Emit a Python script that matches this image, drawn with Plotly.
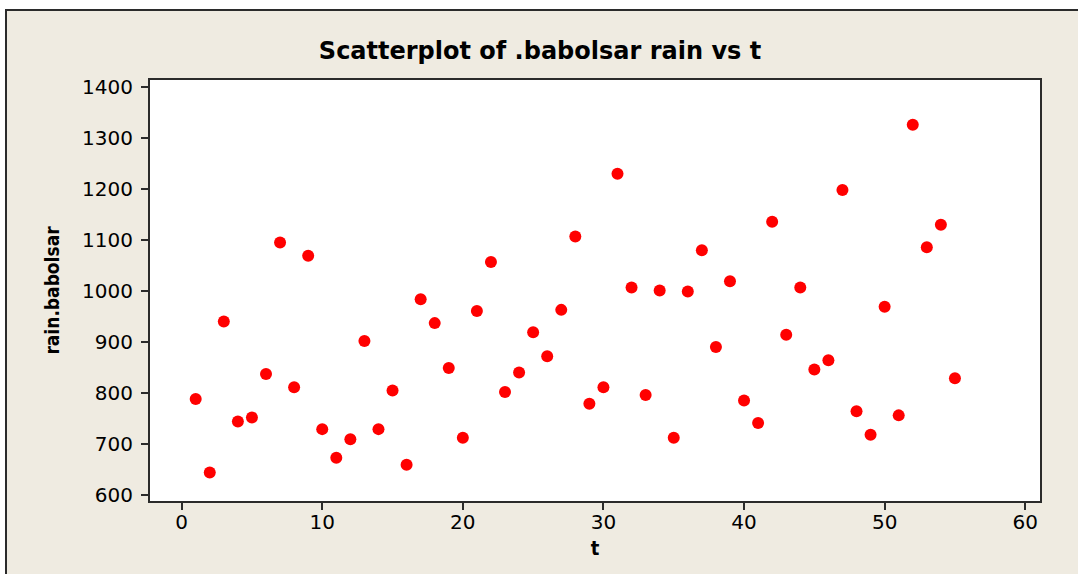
import plotly.graph_objects as go

t = [1, 2, 3, 4, 5, 6, 7, 8, 9, 10,
     11, 12, 13, 14, 15, 16, 17, 18, 19, 20,
     21, 22, 23, 24, 25, 26, 27, 28, 29, 30,
     31, 32, 33, 34, 35, 36, 37, 38, 39, 40,
     41, 42, 43, 44, 45, 46, 47, 48, 49, 50,
     51, 52, 53, 54, 55]
rain_babolsar = [788, 644, 940, 744, 752, 837, 1095, 811, 1069, 729,
                 673, 709, 902, 729, 805, 659, 984, 937, 849, 712,
                 961, 1057, 802, 840, 919, 872, 963, 1107, 779, 811,
                 1230, 1007, 796, 1001, 712, 999, 1080, 890, 1019, 785,
                 741, 1136, 914, 1007, 846, 864, 1198, 764, 718, 969,
                 756, 1326, 1086, 1130, 829]

x_ticks = [0, 10, 20, 30, 40, 50, 60]
y_ticks = [600, 700, 800, 900, 1000, 1100, 1200, 1300, 1400]

title_text = "Scatterplot of .babolsar rain vs t"
x_title = "t"
y_title = "rain.babolsar"

BG = "#EFEBE1"
LINE = "#2b2b2b"
FONT = "DejaVu Sans, Verdana, sans-serif"
COND = "DejaVu Sans Condensed, Liberation Sans Narrow, DejaVu Sans, sans-serif"

fig = go.Figure()
fig.add_trace(go.Scatter(
    x=t, y=rain_babolsar, mode="markers",
    marker=dict(color="#FF0000", size=12, line=dict(width=0)),
    showlegend=False,
))

W, H = 1078, 574
L, T = 150, 80
R = W - 1040
B = H - 501
pw, ph = W - L - R, H - T - B

def px_x(p):
    return (p - L) / pw

def px_y(p):
    return (H - B - p) / ph

fig.update_layout(
    width=W, height=H,
    margin=dict(l=L, r=R, t=T, b=B, autoexpand=False),
    paper_bgcolor="white",
    plot_bgcolor="rgba(0,0,0,0)",
    title=dict(text=title_text, x=540 / W, xref="container", xanchor="center",
               y=1 - 51 / H, yref="container", yanchor="middle",
               font=dict(family=FONT, size=24, color="black", weight="bold")),
    font=dict(family=FONT, color="black"),
    shapes=[
        dict(type="rect", xref="paper", yref="paper", layer="below",
             x0=px_x(6), x1=px_x(1100), y0=px_y(600), y1=px_y(10),
             fillcolor=BG, line=dict(color=LINE, width=2)),
        dict(type="rect", xref="paper", yref="paper", layer="below",
             x0=0, x1=1, y0=0, y1=1,
             fillcolor="white", line=dict(width=0)),
    ],
)

fig.update_xaxes(
    range=[-2.25, 61.05], tickvals=x_ticks, ticks="outside", ticklen=7,
    tickwidth=1.5, tickcolor=LINE, showline=True, linewidth=2, linecolor=LINE,
    mirror=True, showgrid=False, zeroline=False, ticklabelstandoff=-5,
    tickfont=dict(family=FONT, size=20, color="black"),
    title=dict(text=x_title, standoff=8,
               font=dict(family=COND, size=20, color="black", weight="bold")),
)
fig.update_yaxes(
    range=[588, 1414], tickvals=y_ticks, ticks="outside", ticklen=7,
    tickwidth=1.5, tickcolor=LINE, showline=True, linewidth=2, linecolor=LINE,
    mirror=True, showgrid=False, zeroline=False, ticklabelstandoff=4,
    tickfont=dict(family=FONT, size=20, color="black"),
    title=dict(text=y_title, standoff=17,
               font=dict(family=COND, size=19, color="black", weight="bold")),
)

fig.write_html("out.html",
               config={"displayModeBar": False},
               post_script="document.body.style.margin='0';document.body.style.overflow='hidden';")
